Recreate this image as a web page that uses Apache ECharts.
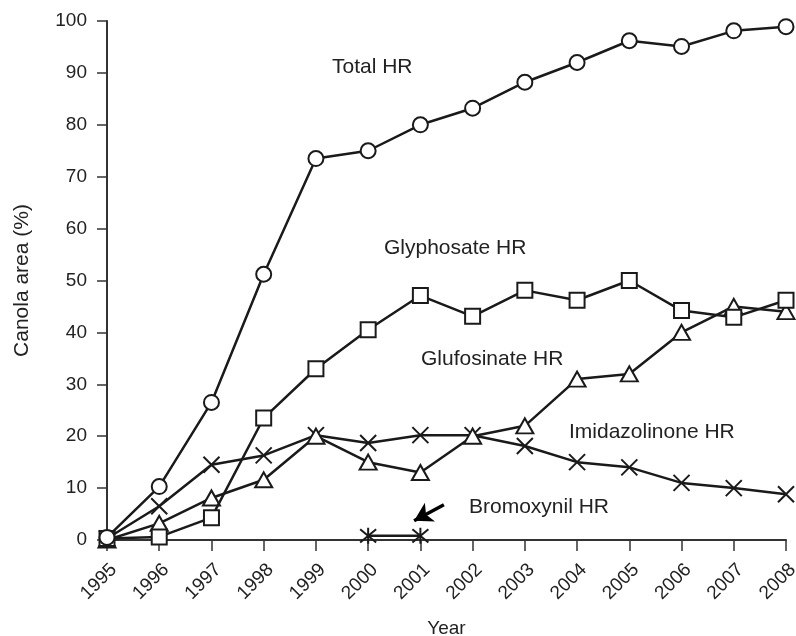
<!DOCTYPE html>
<html>
<head>
<meta charset="utf-8">
<style>
  html, body { margin: 0; padding: 0; background: #fff; }
  #chart { width: 796px; height: 636px; }
</style>
<script src="https://cdn.jsdelivr.net/npm/echarts@6/dist/echarts.min.js"></script>
</head>
<body>
<div id="chart"></div>
<script>
// Jadval ma'lumotlari (rasmdan o'qilgan)
var years = [1995, 1996, 1997, 1998, 1999, 2000, 2001, 2002, 2003, 2004, 2005, 2006, 2007, 2008];
var totalHR = [0.5, 10.3, 26.5, 51.2, 73.5, 75, 80, 83.2, 88.2, 92, 96.2, 95.1, 98.1, 98.9];
var glyphosateHR = [0.3, 0.6, 4.3, 23.5, 33, 40.5, 47.1, 43.1, 48.1, 46.2, 50, 44.2, 42.9, 46.2];
var glufosinateHR = [0, 3.2, 8.1, 11.6, 20, 15, 13, 20, 22, 31, 32, 40, 45, 44];
var imidazolinoneHR = [0.3, 6.5, 14.5, 16.3, 20.2, 18.7, 20.2, 20.2, 18.1, 15, 14, 11, 10, 8.8];
var bromoxynilHR = [null, null, null, null, null, 0.8, 0.8, null, null, null, null, null, null, null];
var yTicks = { min: 0, max: 100, step: 10 };

var ink = "#1a1a1a";
var fontName = "Liberation Sans, Arial, Helvetica, sans-serif";

function toPairs(values) {
  return years.map(function (y, i) {
    return [y, values[i]];
  });
}

var crossPath = "path://M0,0L10,10M10,0L0,10";
var starPath = "path://M0,0L10,10M10,0L0,10M5,-1L5,11";

function lineSeries(name, values, symbol, size, z) {
  return {
    name: name,
    type: "line",
    data: toPairs(values),
    symbol: symbol,
    symbolSize: size,
    showAllSymbol: true,
    connectNulls: false,
    z: z,
    lineStyle: { color: ink, width: 2.5 },
    itemStyle: { color: "#fff", borderColor: ink, borderWidth: 2 },
    emphasis: { disabled: true },
  };
}

var chart = echarts.init(document.getElementById("chart"));

var bromo = lineSeries("Bromoxynil HR", bromoxynilHR, starPath, [16, 16], 2);
// Bromoxynil yonidagi strelka
bromo.markLine = {
  silent: true,
  symbol: ["none", "arrow"],
  symbolSize: [16, 18],
  label: { show: false },
  lineStyle: { color: "#000", width: 3.5, type: "solid" },
  data: [[{ coord: [2001.45, 6.8] }, { coord: [2000.88, 3.7] }]],
};

var option = {
  animation: false,
  backgroundColor: "#fff",
  grid: { left: 107, right: 10, top: 21, bottom: 96, containLabel: false, outerBoundsMode: "none" },
  xAxis: {
    type: "value",
    min: 1995,
    max: 2008,
    interval: 1,
    name: "Year",
    nameLocation: "middle",
    nameGap: 79,
    nameTextStyle: { color: "#222", fontSize: 19, fontFamily: fontName },
    axisLine: { show: true, onZero: false, lineStyle: { color: "#333", width: 2 } },
    axisTick: { show: true, length: 11, lineStyle: { color: "#333", width: 1.5 } },
    axisLabel: {
      rotate: 45,
      margin: 20,
      verticalAlign: "top",
      color: "#222",
      fontSize: 19,
      fontFamily: fontName,
      formatter: function (v) {
        return String(v);
      },
    },
    splitLine: { show: false },
  },
  yAxis: {
    type: "value",
    min: yTicks.min,
    max: yTicks.max,
    interval: yTicks.step,
    name: "Canola area (%)",
    nameLocation: "middle",
    nameGap: 74,
    nameTextStyle: { color: "#222", fontSize: 21, fontFamily: fontName },
    axisLine: { show: true, lineStyle: { color: "#333", width: 2 } },
    axisTick: { show: true, length: 10, lineStyle: { color: "#333", width: 1.5 } },
    axisLabel: { margin: 20, color: "#222", fontSize: 19, fontFamily: fontName },
    splitLine: { show: false },
  },
  series: [
    bromo,
    lineSeries("Imidazolinone HR", imidazolinoneHR, crossPath, [16, 16], 3),
    lineSeries("Glufosinate HR", glufosinateHR, "triangle", [17, 15], 4),
    lineSeries("Glyphosate HR", glyphosateHR, "rect", [15, 15], 5),
    lineSeries("Total HR", totalHR, "circle", [15, 15], 6),
  ],
  graphic: [
    { type: "text", left: 332, top: 57, style: { text: "Total HR", fill: "#222", font: "21px " + fontName } },
    { type: "text", left: 384, top: 238, style: { text: "Glyphosate HR", fill: "#222", font: "21px " + fontName } },
    { type: "text", left: 421, top: 349, style: { text: "Glufosinate HR", fill: "#222", font: "21px " + fontName } },
    { type: "text", left: 569, top: 422, style: { text: "Imidazolinone HR", fill: "#222", font: "21px " + fontName } },
    { type: "text", left: 469, top: 497, style: { text: "Bromoxynil HR", fill: "#222", font: "21px " + fontName } },
  ],
};

chart.setOption(option);
</script>
</body>
</html>
